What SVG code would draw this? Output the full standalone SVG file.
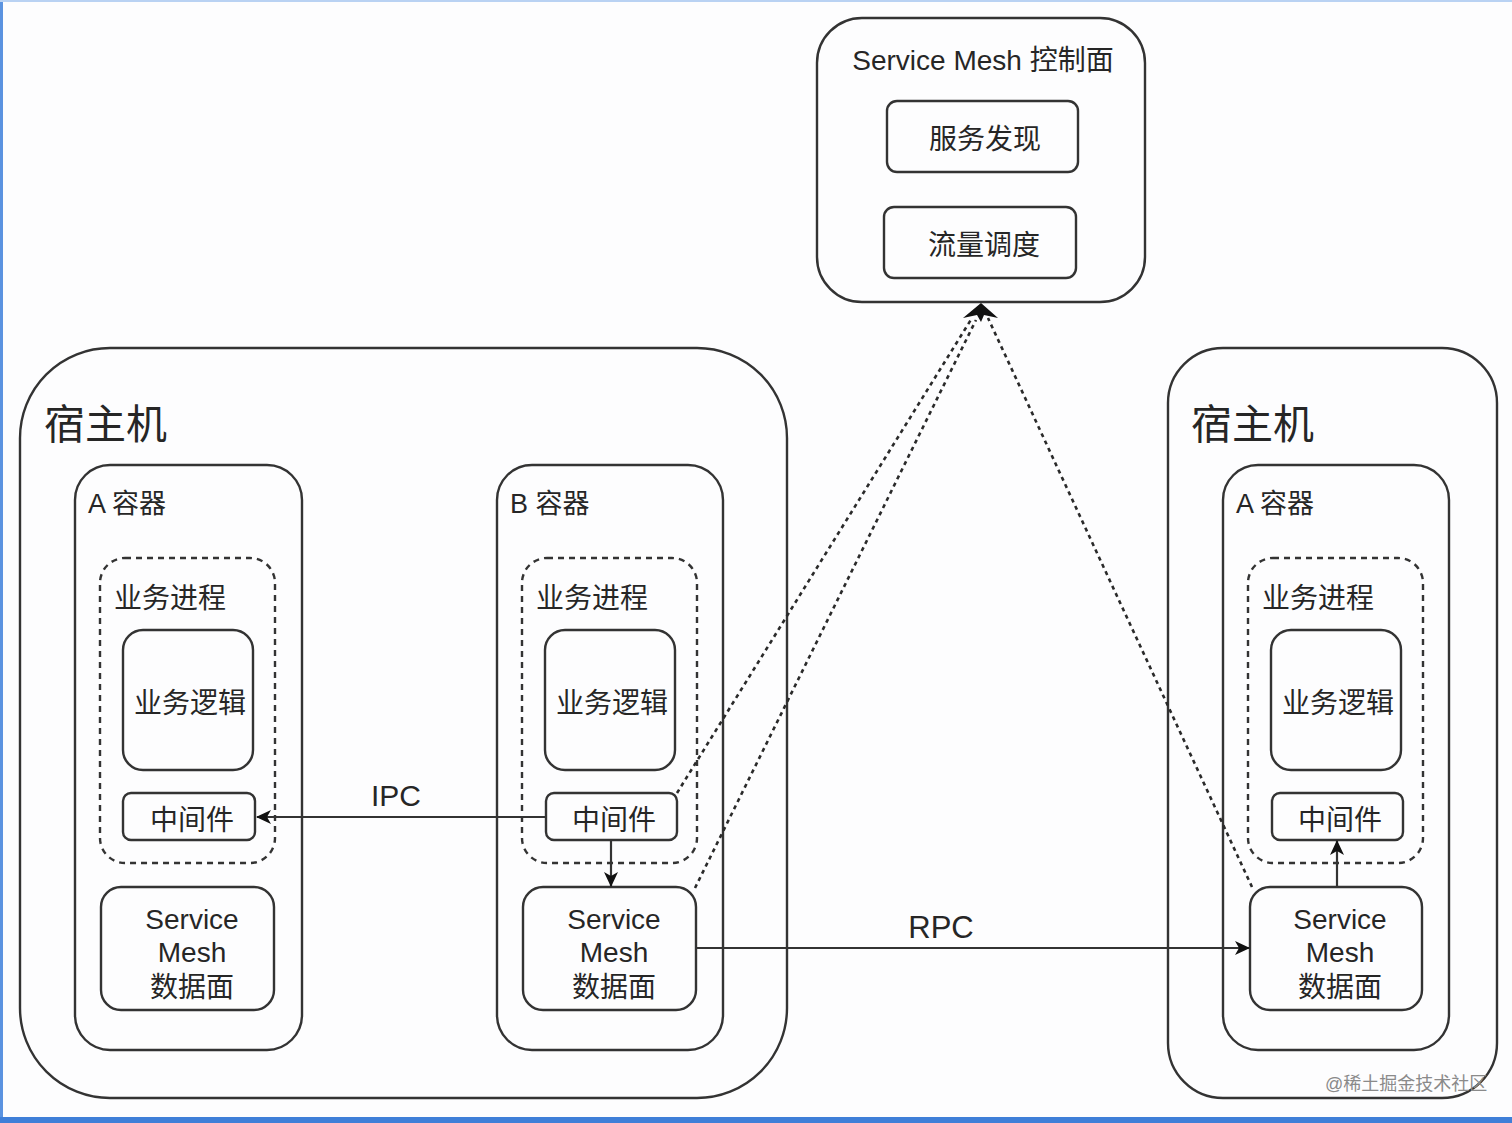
<svg xmlns="http://www.w3.org/2000/svg" width="1512" height="1123" viewBox="0 0 1512 1123">
<style>
  .box { fill: none; stroke: #333; stroke-width: 2.4; }
  .proc { fill: none; stroke: #333; stroke-width: 2.4; stroke-dasharray: 6 5; }
  .t { font-family: "Liberation Sans", "Noto Sans CJK SC", sans-serif; fill: #262626; }
  .c { text-anchor: middle; dominant-baseline: central; }
  .edge { fill: none; stroke: #333; stroke-width: 2.2; }
  .dash { fill: none; stroke: #2a2a2a; stroke-width: 2.6; stroke-dasharray: 4 4; }
</style>
<defs>
  <marker id="arr" markerWidth="16" markerHeight="16" refX="14" refY="8" orient="auto" markerUnits="userSpaceOnUse">
    <path d="M0,1 L15,8 L0,15 L4,8 Z" fill="#111"/>
  </marker>
</defs>
<rect x="0" y="0" width="1512" height="1123" fill="#fdfdfe"/>
<rect x="0" y="0" width="3" height="1123" fill="#5b93e0"/>
<rect x="0" y="0" width="1512" height="2" fill="#b9d2f3"/>
<rect x="0" y="1117" width="1512" height="6" fill="#3f7fd8"/>

<g id="control-plane">
  <rect class="box" x="817" y="18" width="328" height="284" rx="45"/>
  <text class="t c" x="983" y="60" font-size="28">Service Mesh 控制面</text>
</g>
<g id="service-discovery">
  <rect class="box" x="887" y="101" width="191" height="71" rx="10"/>
  <text class="t c" x="985" y="139" font-size="28">服务发现</text>
</g>
<g id="traffic-scheduling">
  <rect class="box" x="884" y="207" width="192" height="71" rx="10"/>
  <text class="t c" x="984" y="245" font-size="28">流量调度</text>
</g>

<g id="host-left">
  <rect class="box" x="20" y="348" width="767" height="750" rx="90"/>
  <text class="t" x="44" y="439" font-size="41">宿主机</text>
</g>
<g id="host-right">
  <rect class="box" x="1168" y="348" width="329" height="750" rx="55"/>
  <text class="t" x="1191" y="439" font-size="41">宿主机</text>
</g>

<g id="container-a-left">
  <rect class="box" x="75" y="465" width="227" height="585" rx="35"/>
  <text class="t" x="88" y="504" font-size="27" dominant-baseline="central">A 容器</text>
</g>
<g id="process-a-left">
  <rect class="proc" x="100" y="558" width="175" height="305" rx="25"/>
  <text class="t" x="114" y="598" font-size="28" dominant-baseline="central">业务进程</text>
</g>
<g id="logic-a-left">
  <rect class="box" x="123" y="630" width="130" height="140" rx="20"/>
  <text class="t c" x="190" y="703" font-size="28">业务逻辑</text>
</g>
<g id="middleware-a-left">
  <rect class="box" x="123" y="793" width="132" height="47" rx="8"/>
  <text class="t c" x="192" y="820" font-size="28">中间件</text>
</g>
<g id="mesh-a-left">
  <rect class="box" x="101" y="887" width="173" height="123" rx="20"/>
  <text class="t c" x="192" y="919" font-size="28">Service</text>
  <text class="t c" x="192" y="952" font-size="28">Mesh</text>
  <text class="t c" x="192" y="987" font-size="28">数据面</text>
</g>

<g id="container-b">
  <rect class="box" x="497" y="465" width="226" height="585" rx="35"/>
  <text class="t" x="510" y="504" font-size="27" dominant-baseline="central">B 容器</text>
</g>
<g id="process-b">
  <rect class="proc" x="522" y="558" width="175" height="305" rx="25"/>
  <text class="t" x="536" y="598" font-size="28" dominant-baseline="central">业务进程</text>
</g>
<g id="logic-b">
  <rect class="box" x="545" y="630" width="130" height="140" rx="20"/>
  <text class="t c" x="612" y="703" font-size="28">业务逻辑</text>
</g>
<g id="middleware-b">
  <rect class="box" x="546" y="793" width="131" height="47" rx="8"/>
  <text class="t c" x="614" y="820" font-size="28">中间件</text>
</g>
<g id="mesh-b">
  <rect class="box" x="523" y="887" width="173" height="123" rx="20"/>
  <text class="t c" x="614" y="919" font-size="28">Service</text>
  <text class="t c" x="614" y="952" font-size="28">Mesh</text>
  <text class="t c" x="614" y="987" font-size="28">数据面</text>
</g>

<g id="container-a-right">
  <rect class="box" x="1223" y="465" width="226" height="585" rx="35"/>
  <text class="t" x="1236" y="504" font-size="27" dominant-baseline="central">A 容器</text>
</g>
<g id="process-a-right">
  <rect class="proc" x="1248" y="558" width="175" height="305" rx="25"/>
  <text class="t" x="1262" y="598" font-size="28" dominant-baseline="central">业务进程</text>
</g>
<g id="logic-a-right">
  <rect class="box" x="1271" y="630" width="130" height="140" rx="20"/>
  <text class="t c" x="1338" y="703" font-size="28">业务逻辑</text>
</g>
<g id="middleware-a-right">
  <rect class="box" x="1272" y="793" width="131" height="47" rx="8"/>
  <text class="t c" x="1340" y="820" font-size="28">中间件</text>
</g>
<g id="mesh-a-right">
  <rect class="box" x="1250" y="887" width="172" height="123" rx="20"/>
  <text class="t c" x="1340" y="919" font-size="28">Service</text>
  <text class="t c" x="1340" y="952" font-size="28">Mesh</text>
  <text class="t c" x="1340" y="987" font-size="28">数据面</text>
</g>

<g id="connectors">
  <path class="edge" d="M546,817 L257,817" marker-end="url(#arr)"/>
  <text class="t c" x="396" y="795" font-size="30">IPC</text>
  <path class="edge" d="M611,840 L611,886" marker-end="url(#arr)"/>
  <path class="edge" d="M696,948 L1249,948" marker-end="url(#arr)"/>
  <text class="t c" x="941" y="927" font-size="31">RPC</text>
  <path class="edge" d="M1337,887 L1337,841" marker-end="url(#arr)"/>
  <path class="dash" d="M677,793 L972,318"/>
  <path class="dash" d="M695,888 L976,320"/>
  <path class="dash" d="M1252,887 L988,318"/>
  <path d="M981,303 L998,318 L984,315 L981,322 L977,315 L963,318 Z" fill="#111"/>
</g>

<text class="t" x="1325" y="1090" font-size="18" style="fill:#8a8a8a">@稀土掘金技术社区</text>
</svg>
